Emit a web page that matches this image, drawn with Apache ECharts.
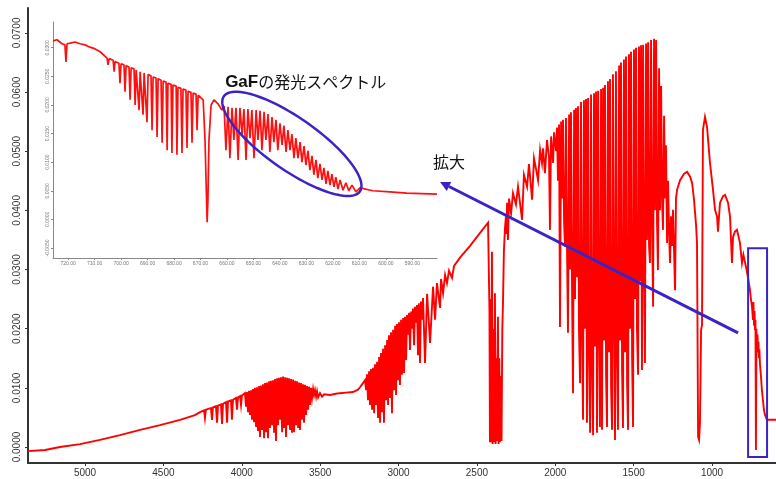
<!DOCTYPE html>
<html><head><meta charset="utf-8">
<script src="https://cdn.jsdelivr.net/npm/echarts@6/dist/echarts.min.js"></script>
<style>html,body{margin:0;padding:0;background:#fff}#c{width:776px;height:479px}</style>
</head><body><div id="c"></div>
<script>
// ---- axis ticks ----
const xTicks = [5000, 4500, 4000, 3500, 3000, 2500, 2000, 1500, 1000];
const yTicks = [0, 0.01, 0.02, 0.03, 0.04, 0.05, 0.06, 0.07];
const insetXTicks = [720, 710, 700, 690, 680, 670, 660, 650, 640, 630, 620, 610, 600, 590];
const insetYTicks = [-0.005, 0, 0.005, 0.01, 0.015, 0.02, 0.025, 0.03];

// ---- main spectrum (wavenumber, absorbance) ----
const specBaseline = [[5364,-0.0007],[5255,-0.0005],[5160,0.0000],[5032,0.0005],[4905,0.0012],[4777,0.0020],[4649,0.0029],[4522,0.0037],[4394,0.0046],[4299,0.0054],[4267,0.0059],
[4241,0.0062],[4235,0.0049],[4229,0.0063],[4197,0.0066],[4190,0.0046],[4184,0.0067],[4165,0.0069],[4158,0.0041],[4152,0.0070],[4133,0.0072],[4126,0.0039],[4120,0.0073],
[4101,0.0076],[4094,0.0041],[4088,0.0077],[4069,0.0079],[4063,0.0046],[4056,0.0080],[4037,0.0083],[4031,0.0063],[4024,0.0084],[4011,0.0086],[4005,0.0071],[3999,0.0087],[3992,0.0088]];
const specBand3700 = [[3980,0.0091],[3973,0.0068],[3967,0.0093],[3960,0.0059],[3954,0.0095],[3948,0.0054],[3941,0.0096],[3935,0.0046],[3929,0.0098],[3922,0.0042],[3916,0.0100],[3909,0.0034],[3903,0.0101],[3897,0.0027],[3890,0.0103],[3884,0.0017],[3878,0.0104],[3871,0.0029],[3865,0.0106],[3858,0.0015],[3852,0.0108],[3846,0.0025],[3839,0.0109],[3833,0.0015],[3826,0.0111],[3820,0.0032],[3814,0.0112],[3807,0.0037],[3801,0.0113],[3794,0.0024],[3788,0.0115],[3782,0.0010],[3775,0.0116],[3769,0.0037],[3763,0.0117],[3756,0.0046],[3750,0.0118],[3743,0.0025],[3737,0.0119],[3731,0.0032],[3724,0.0118],[3718,0.0017],[3711,0.0117],[3705,0.0037],[3699,0.0116],[3692,0.0029],[3686,0.0115],[3680,0.0024],[3673,0.0114],[3667,0.0025],[3660,0.0112],[3654,0.0037],[3648,0.0111],[3641,0.0032],[3635,0.0109],[3629,0.0029],[3622,0.0108],[3616,0.0046],[3609,0.0106],[3603,0.0041],[3597,0.0105],[3590,0.0054],[3584,0.0103],[3577,0.0063],[3571,0.0102],[3565,0.0071],[3558,0.0100],[3552,0.0083]];
const specShoulder = [[3545,0.0098],[3539,0.0088],[3533,0.0096],[3526,0.0085],[3520,0.0094],[3513,0.0084],[3501,0.0091],[3488,0.0085],[3475,0.0089],[3437,0.0088],[3400,0.0090],[3374,0.0091],[3335,0.0092],[3291,0.0093],[3259,0.0097],[3246,0.0101],[3227,0.0108],[3214,0.0113]];
const specBand3000 = [[3207,0.0096],[3201,0.0123],[3195,0.0079],[3188,0.0128],[3182,0.0071],[3176,0.0132],[3169,0.0063],[3163,0.0134],[3156,0.0057],[3150,0.0140],[3144,0.0071],[3137,0.0144],[3131,0.0049],[3124,0.0152],[3118,0.0041],[3112,0.0159],[3105,0.0059],[3099,0.0166],[3093,0.0041],[3086,0.0172],[3080,0.0079],[3073,0.0181],[3067,0.0071],[3061,0.0189],[3054,0.0083],[3048,0.0194],[3042,0.0057],[3035,0.0198],[3029,0.0096],[3022,0.0205],[3016,0.0088],[3010,0.0208],[3003,0.0113],[2997,0.0211],[2991,0.0105],[2984,0.0215],[2978,0.0122],[2971,0.0218],[2965,0.0125],[2959,0.0220],[2952,0.0147],[2946,0.0223],
[2940,0.0190],[2933,0.0227],[2927,0.0164],[2920,0.0229],[2914,0.0200],[2908,0.0234],[2901,0.0172],[2895,0.0237],[2889,0.0210],[2882,0.0240],[2876,0.0155],[2870,0.0243],[2863,0.0142],[2857,0.0246],[2850,0.0215],[2844,0.0252],[2831,0.0142],[2818,0.0259],[2799,0.0176],[2780,0.0271],[2767,0.0215],[2755,0.0277],[2735,0.0235],[2729,0.0284],[2716,0.0260],[2703,0.0291],[2691,0.0277],[2678,0.0298],[2659,0.0286],[2646,0.0306],[2608,0.0320],[2544,0.0340],[2480,0.0362],[2429,0.0379]];
const specCO2 = [[2423,0.0379],[2420,0.0230],[2417,0.0008],[2413,0.0250],[2410,0.0008],[2404,0.0330],[2400,0.0005],[2395,0.0200],[2391,0.0008],[2385,0.0260],[2381,0.0005],[2376,0.0150],[2372,0.0010],[2366,0.0220],[2362,0.0005],[2357,0.0150],[2353,0.0008],[2347,0.0120],[2343,0.0010],[2338,0.0200],[2334,0.0240],[2328,0.0330],[2321,0.0370],[2315,0.0390],[2311,0.0360]];
const specWater = [[2308,0.0413],[2302,0.0350],[2295,0.0420],[2282,0.0395],[2270,0.0429],[2251,0.0410],[2238,0.0440],[2212,0.0384],[2200,0.0460],[2180,0.0440],[2168,0.0478],[2148,0.0418],[2136,0.0488],[2123,0.0470],[2110,0.0451],[2097,0.0502],[2085,0.0480],[2078,0.0505],[2066,0.0463],[2053,0.0519],[2040,0.0490],[2034,0.0367],[2027,0.0525],[2014,0.0480],[2008,0.0532],[1995,0.0500],[1989,0.0540],[1983,0.0450],[1976,0.0545],[1970,0.0203],[1963,0.0550],[1957,0.0420],[1951,0.0553],[1944,0.0380],[1938,0.0338],[1932,0.0556],[1925,0.0330],[1919,0.0193],[1912,0.0562],[1906,0.0300],[1900,0.0566],[1893,0.0260],[1887,0.0091],[1880,0.0570],[1874,0.0250],[1868,0.0573],[1861,0.0287],[1855,0.0576],[1849,0.0200],[1842,0.0108],[1836,0.0583],[1829,0.0180],[1823,0.0046],[1817,0.0586],[1810,0.0200],[1804,0.0588],[1798,0.0041],[1791,0.0590],[1785,0.0160],[1778,0.0024],[1772,0.0596],[1766,0.0140],[1759,0.0020],[1753,0.0598],[1747,0.0170],[1740,0.0601],[1734,0.0024],[1727,0.0602],[1721,0.0200],[1715,0.0034],[1708,0.0605],[1702,0.0029],[1695,0.0607],[1689,0.0180],[1683,0.0612],[1676,0.0120],[1670,0.0034],[1664,0.0618],[1657,0.0160],[1651,0.0622],[1644,0.0100],[1638,0.0029],[1632,0.0630],[1625,0.0200],[1619,0.0012],[1613,0.0635],[1606,0.0150],[1600,0.0029],[1593,0.0645],[1587,0.0180],[1581,0.0650],[1574,0.0130],[1568,0.0032],[1562,0.0655],[1555,0.0160],[1549,0.0660],[1542,0.0110],[1536,0.0029],[1530,0.0664],[1523,0.0200],[1517,0.0668],[1510,0.0150],[1504,0.0034],[1498,0.0672],[1491,0.0250],[1485,0.0675],[1479,0.0200],[1472,0.0122],[1466,0.0677],[1459,0.0280],[1453,0.0679],[1447,0.0130],[1440,0.0680],[1434,0.0300],[1428,0.0142],[1421,0.0682],[1415,0.0350],[1408,0.0684],[1402,0.0340],[1396,0.0311],[1389,0.0688],[1383,0.0380],[1376,0.0237],[1370,0.0690],[1364,0.0400],[1357,0.0688],[1351,0.0380],[1345,0.0299],[1338,0.0640],[1332,0.0400],[1325,0.0610],[1319,0.0420],[1313,0.0367],[1306,0.0560],[1300,0.0420],[1294,0.0510],[1287,0.0345],[1281,0.0450],[1274,0.0360],[1268,0.0311],[1262,0.0390],[1255,0.0340],[1249,0.0401],[1236,0.0265],[1230,0.0420]];
const specFinger = [[1223,0.0435],[1204,0.0451],[1178,0.0462],[1159,0.0465],[1140,0.0457],[1127,0.0446],[1115,0.0418],[1102,0.0375],[1096,0.0345],[1093,0.0210],[1089,0.0017],[1083,0.0012],[1077,0.0041],[1070,0.0198],[1064,0.0206],[1058,0.0536],[1045,0.0558],[1032,0.0541],[1013,0.0480],[994,0.0435],[981,0.0401],[968,0.0389],[962,0.0364],[955,0.0392],[949,0.0413],[930,0.0424],[917,0.0426],[898,0.0413],[885,0.0389],[879,0.0350],[873,0.0311],[866,0.0355],[854,0.0364],[841,0.0367],[822,0.0345],[809,0.0311],[800,0.0325],[790,0.0328],[780,0.0300],[771,0.0287],[758,0.0265],[752,0.0250],[745,0.0237],[739,0.0215],[736,0.0245],[732,0.0205],[729,0.0230],[726,0.0198],[723,0.0215],[720,-0.0005],[717,0.0200],[713,0.0169],[710,0.0190],[707,0.0160],[704,0.0178],[701,0.0150],[698,0.0165],[694,0.0139],[688,0.0120],[682,0.0096],[675,0.0079],[669,0.0063],[662,0.0054],[650,0.0046],[630,0.0046],[592,0.0046]];

// ---- inset spectrum (x, intensity) ----
const insetLeft = [[725.7,0.0312],[724.2,0.0314],[722.3,0.0307],[721.2,0.0305],[720.8,0.0275],[720.4,0.0307],[719.2,0.0308],[717.4,0.0310],[715.5,0.0307],[713.6,0.0305],[711.7,0.0301],[709.8,0.0298],[707.9,0.0293],
[705.3,0.0282],[704.9,0.0270],[704.5,0.0281],[703.0,0.0278],[702.6,0.0258],[702.3,0.0276],[700.8,0.0273],[700.4,0.0238],[700.0,0.0272],[698.9,0.0270],[698.5,0.0223],[698.1,0.0269],[697.0,0.0266],[696.6,0.0209],[696.2,0.0265],[695.1,0.0263],[694.7,0.0200],[694.3,0.0261],[693.6,0.0260],[693.2,0.0191],[692.8,0.0258],[692.1,0.0257],[691.7,0.0183],[691.3,0.0256],[690.6,0.0254],[690.2,0.0170],[689.8,0.0253],[688.7,0.0251],[688.3,0.0156],[687.9,0.0249],[686.8,0.0247],[686.4,0.0144],[686.0,0.0246],[684.9,0.0243],[684.5,0.0134],[684.1,0.0242],[683.0,0.0240],[682.6,0.0121],[682.3,0.0238],[681.1,0.0236],[680.8,0.0116],[680.4,0.0235],[679.2,0.0233],[678.9,0.0113],[678.5,0.0231],[677.4,0.0229],[677.0,0.0116],[676.6,0.0228],[675.5,0.0226],[675.1,0.0125],[674.7,0.0224],[673.6,0.0222],[673.2,0.0134],[672.8,0.0221],[671.7,0.0219],[671.3,0.0156],[670.9,0.0217],
[670.2,0.0216],[669.0,0.0209],[668.3,0.0139],[667.5,-0.0005],[667.2,0.0034],[666.8,0.0139],[666.0,0.0200],[664.9,0.0209],[663.4,0.0202],[661.9,0.0191]];
const insetGaF = [[661.1,0.0198],[660.4,0.0121],[659.6,0.0197],[658.9,0.0107],[658.1,0.0195],[657.4,0.0139],[656.6,0.0195],[655.8,0.0104],[655.1,0.0195],[654.3,0.0148],[653.6,0.0193],[652.8,0.0104],[652.1,0.0193],[651.3,0.0142],[650.6,0.0191],[649.8,0.0107],[649.0,0.0191],[648.3,0.0139],[647.5,0.0190],[646.8,0.0121],[646.0,0.0188],[645.3,0.0139],[644.5,0.0184],[643.8,0.0118],[643.0,0.0179],[642.3,0.0135],[641.5,0.0174],[640.8,0.0121],[640.0,0.0168],[639.2,0.0130],[638.5,0.0164],[637.7,0.0118],[637.0,0.0156],[636.2,0.0121],[635.5,0.0149],[634.7,0.0107],[634.0,0.0142],[633.2,0.0107],[632.4,0.0135],[631.7,0.0100],[630.9,0.0128],[630.2,0.0095],[629.4,0.0120],[628.7,0.0086],[627.9,0.0111],[627.2,0.0078],[626.4,0.0104],[625.7,0.0072],[624.9,0.0097],[624.1,0.0069],[623.4,0.0090],[622.6,0.0062],[621.9,0.0085],[621.1,0.0060],[620.4,0.0079],[619.6,0.0057],[618.9,0.0074],[618.1,0.0053],[617.3,0.0069],[616.2,0.0051],[615.1,0.0064],[614.0,0.0050],[612.8,0.0060],[611.3,0.0048],[609.8,0.0055],[604.9,0.0050],[598.5,0.0048],[592.1,0.0046],[580.7,0.0044]];

// ---- annotation anchors (data coordinates) ----
const boxRange = [[770, 0.0336], [649, -0.0017]];      // main axes
const arrowFromTo = [[834, 0.0193], [2735, 0.0448]];   // main axes
const ellipseCenter = [635.5, 0.0132];                 // inset axes
const gafLabelAt = [660.7, 0.0240];                    // inset axes
const zoomLabelAt = [582.2, 0.0100];                   // inset axes

const mainData = [].concat(specBaseline, specBand3700, specShoulder, specBand3000, specCO2, specWater, specFinger);
const insetData = [].concat(insetLeft, insetGaF);

const chart = echarts.init(document.getElementById('c'), null, {renderer: 'canvas'});
const fmt4 = v => v.toFixed(4);
const fmt2 = v => v.toFixed(2);
const axisDark = '#333';
chart.setOption({
  animation: false,
  backgroundColor: '#fff',
  textStyle: {fontFamily: 'Liberation Sans, Arial, sans-serif'},
  grid: [
    {left: 28, right: 0, top: 8, bottom: 16},
    {left: 53, top: 22, width: 384, height: 236}
  ],
  xAxis: [
    {type: 'value', gridIndex: 0, inverse: true, min: 592, max: 5364,
     axisLine: {onZero: false, lineStyle: {color: axisDark, width: 2}},
     axisTick: {customValues: xTicks, length: 3, lineStyle: {color: axisDark}},
     axisLabel: {customValues: xTicks, formatter: v => String(v), fontSize: 10, color: '#333', margin: 5},
     splitLine: {show: false}},
    {type: 'value', gridIndex: 1, inverse: true, min: 580.7, max: 725.7,
     axisLine: {onZero: false, lineStyle: {color: '#888', width: 1}},
     axisTick: {customValues: insetXTicks, length: 2, lineStyle: {color: '#888'}},
     axisLabel: {customValues: insetXTicks, formatter: fmt2, fontSize: 5, color: '#777', margin: 3},
     splitLine: {show: false}}
  ],
  yAxis: [
    {type: 'value', gridIndex: 0, min: -0.0027, max: 0.0742,
     axisLine: {show: true, onZero: false, lineStyle: {color: axisDark, width: 2}},
     axisTick: {show: true, customValues: yTicks, length: 3, lineStyle: {color: axisDark}},
     axisLabel: {customValues: yTicks, formatter: fmt4, rotate: 90, fontSize: 10, color: '#333', margin: 6},
     splitLine: {show: false}},
    {type: 'value', gridIndex: 1, min: -0.00675, max: 0.0345,
     axisLine: {show: true, onZero: false, lineStyle: {color: '#888', width: 1}},
     axisTick: {show: true, customValues: insetYTicks, length: 2, lineStyle: {color: '#888'}},
     axisLabel: {customValues: insetYTicks, formatter: fmt4, rotate: 90, fontSize: 5, color: '#777', margin: 3},
     splitLine: {show: false}}
  ],
  series: [
    {type: 'line', xAxisIndex: 0, yAxisIndex: 0, data: mainData, showSymbol: false, symbol: 'none',
     lineStyle: {color: '#ff0000', width: 1.9, join: 'miter'}, itemStyle: {color: '#ff0000'}, clip: true},
    {type: 'line', xAxisIndex: 1, yAxisIndex: 1, data: insetData, showSymbol: false, symbol: 'none',
     lineStyle: {color: '#ff1010', width: 1.7}, itemStyle: {color: '#ff0000'}, clip: true}
  ]
});

// ---- annotations anchored to data coordinates ----
const blue = '#3a24c6';
const P0 = v => chart.convertToPixel({gridIndex: 0}, v);
const P1 = v => chart.convertToPixel({gridIndex: 1}, v);
const b0 = P0(boxRange[0]), b1 = P0(boxRange[1]);
const a0 = P0(arrowFromTo[0]), a1 = P0(arrowFromTo[1]);
const ang = Math.atan2(a1[1] - a0[1], a1[0] - a0[0]);
const headLen = 10, headW = 5;
const hb = [a1[0] - headLen * Math.cos(ang), a1[1] - headLen * Math.sin(ang)];
const head = [a1,
  [hb[0] + headW * Math.sin(ang), hb[1] - headW * Math.cos(ang)],
  [hb[0] - headW * Math.sin(ang), hb[1] + headW * Math.cos(ang)]];
const ec = P1(ellipseCenter);
const ra = 83, rb = 26, rot = 35 * Math.PI / 180;
const ellPts = [];
for (let i = 0; i < 96; i++) {
  const t = i / 96 * Math.PI * 2;
  const ex = ra * Math.cos(t), ey = rb * Math.sin(t);
  ellPts.push([ec[0] + ex * Math.cos(rot) - ey * Math.sin(rot), ec[1] + ex * Math.sin(rot) + ey * Math.cos(rot)]);
}
const gl = P1(gafLabelAt), zl = P1(zoomLabelAt);
chart.setOption({
  graphic: [
    {type: 'rect', shape: {x: Math.min(b0[0], b1[0]), y: Math.min(b0[1], b1[1]), width: Math.abs(b1[0] - b0[0]), height: Math.abs(b1[1] - b0[1])},
     style: {fill: 'none', stroke: blue, lineWidth: 2}, z: 100},
    {type: 'line', shape: {x1: a0[0], y1: a0[1], x2: hb[0], y2: hb[1]}, style: {stroke: blue, lineWidth: 3}, z: 100},
    {type: 'polygon', shape: {points: head}, style: {fill: blue}, z: 100},
    {type: 'polygon', shape: {points: ellPts}, style: {fill: 'none', stroke: blue, lineWidth: 2.5}, z: 100},
    {type: 'text', x: gl[0], y: gl[1], z: 100,
     style: {text: '{b|GaF}{n|の発光スペクトル}', verticalAlign: 'middle', align: 'left',
       rich: {b: {fontFamily: 'Liberation Sans, Arial', fontWeight: 'bold', fontSize: 17, fill: '#111'},
              n: {fontFamily: 'Noto Sans CJK JP', fontSize: 16, fill: '#111'}}}},
    {type: 'text', x: zl[0], y: zl[1], z: 100,
     style: {text: '拡大', verticalAlign: 'middle', align: 'left', font: '16px "Noto Sans CJK JP"', fill: '#111'}}
  ]
});
</script>
</body></html>
